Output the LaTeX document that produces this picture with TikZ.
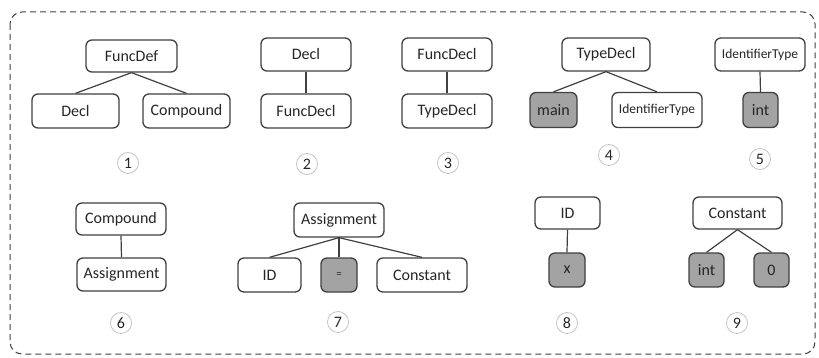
\documentclass[tikz,border=0pt]{standalone}
\usepackage{fontspec}
\setmainfont{Carlito}
\definecolor{edgegray}{HTML}{404040}
\definecolor{fillgray}{HTML}{A3A3A3}
\definecolor{txtgray}{HTML}{262626}
\definecolor{circgray}{HTML}{C4C4C4}
\tikzset{
  box/.style={draw=edgegray, line width=1.3pt, rounded corners=6pt, fill=white,
    minimum width=90, minimum height=33, inner sep=0pt, text=txtgray,
    font=\fontsize{16}{18}\selectfont},
  leaf/.style={box, fill=fillgray},
  smalltxt/.style={font=\fontsize{13.5}{16}\selectfont},
  conn/.style={draw=edgegray, line width=1.2pt},
  numlabel/.style={circle, draw=circgray, line width=0.8pt, minimum size=21, inner sep=0pt,
    text=txtgray, font=\fontsize{16}{18}\selectfont},
  frame/.style={draw=edgegray, line width=1pt, dash pattern=on 6pt off 4pt, rounded corners=12pt}
}
\begin{document}
\begin{tikzpicture}[x=1pt,y=-1pt]
\useasboundingbox (0,0) rectangle (819,358);
\draw[frame] (10,12) rectangle (815,354);

% Tree 1
\node[box, minimum width=91, minimum height=32] (t1r) at (131.5,56) {FuncDef};
\node[box, minimum width=87, minimum height=34] (t1a) at (75.5,111) {Decl};
\node[box, minimum width=87, minimum height=34] (t1b) at (186.5,111) {Compound};
\draw[conn] (t1r.south) -- (t1a.north);
\draw[conn] (t1r.south) -- (t1b.north);
\node[numlabel] (n1) at (128,163) {1};

% Tree 2
\node[box] (t2r) at (306,54.5) {Decl};
\node[box, minimum height=34] (t2a) at (306,111) {FuncDecl};
\draw[conn] (t2r.south) -- (t2a.north);
\node[numlabel] (n2) at (307,164) {2};

% Tree 3
\node[box] (t3r) at (447,54.5) {FuncDecl};
\node[box, minimum height=34] (t3a) at (447,111) {TypeDecl};
\draw[conn] (t3r.south) -- (t3a.north);
\node[numlabel] (n3) at (448,163) {3};

% Tree 4
\node[box, minimum width=88] (t4r) at (606,54.5) {TypeDecl};
\node[leaf, minimum width=47, minimum height=35] (t4a) at (553.5,110) {main};
\node[box, smalltxt, minimum width=90, minimum height=35] (t4b) at (657,110) {IdentifierType};
\draw[conn] (t4r.south) -- (t4a.north);
\draw[conn] (t4r.south) -- (t4b.north);
\node[numlabel] (n4) at (609,155) {4};

% Tree 5
\node[box, smalltxt] (t5r) at (760,54.5) {IdentifierType};
\node[leaf, minimum width=35, minimum height=35] (t5a) at (760.5,110) {int};
\draw[conn] (t5r.south) -- (t5a.north);
\node[numlabel] (n5) at (760,159) {5};

% Tree 6
\node[box, minimum height=32] (t6r) at (121,219) {Compound};
\node[box, minimum width=89] (t6a) at (121.5,274.5) {Assignment};
\draw[conn] (t6r.south) -- (t6a.north);
\node[numlabel] (n6) at (121,323) {6};

% Tree 7
\node[box, minimum height=34] (t7r) at (339,220) {Assignment};
\node[box, minimum width=63, minimum height=34] (t7a) at (269.5,275) {ID};
\node[leaf, minimum width=36, minimum height=34, font=\fontsize{11}{12}\selectfont] (t7b) at (339,275) {=};
\node[box, minimum height=34] (t7c) at (422,275) {Constant};
\draw[conn] (t7r.south) -- (t7a.north);
\draw[conn] (t7r.south) -- (t7b.north);
\draw[conn] (t7r.south) -- (t7c.north);
\node[numlabel] (n7) at (338,322) {7};

% Tree 8
\node[box, minimum width=65, minimum height=32] (t8r) at (567.5,213) {ID};
\node[leaf, minimum width=36, minimum height=34] (t8a) at (567,270) {x};
\draw[conn] (t8r.south) -- (t8a.north);
\node[numlabel] (n8) at (567,323) {8};

% Tree 9
\node[box, minimum width=89, minimum height=32] (t9r) at (737.5,213) {Constant};
\node[leaf, minimum width=35, minimum height=34] (t9a) at (706.5,270) {int};
\node[leaf, minimum width=35, minimum height=34] (t9b) at (771.5,270) {0};
\draw[conn] (t9r.south) -- (t9a.north);
\draw[conn] (t9r.south) -- (t9b.north);
\node[numlabel] (n9) at (737,323) {9};
\end{tikzpicture}
\end{document}
